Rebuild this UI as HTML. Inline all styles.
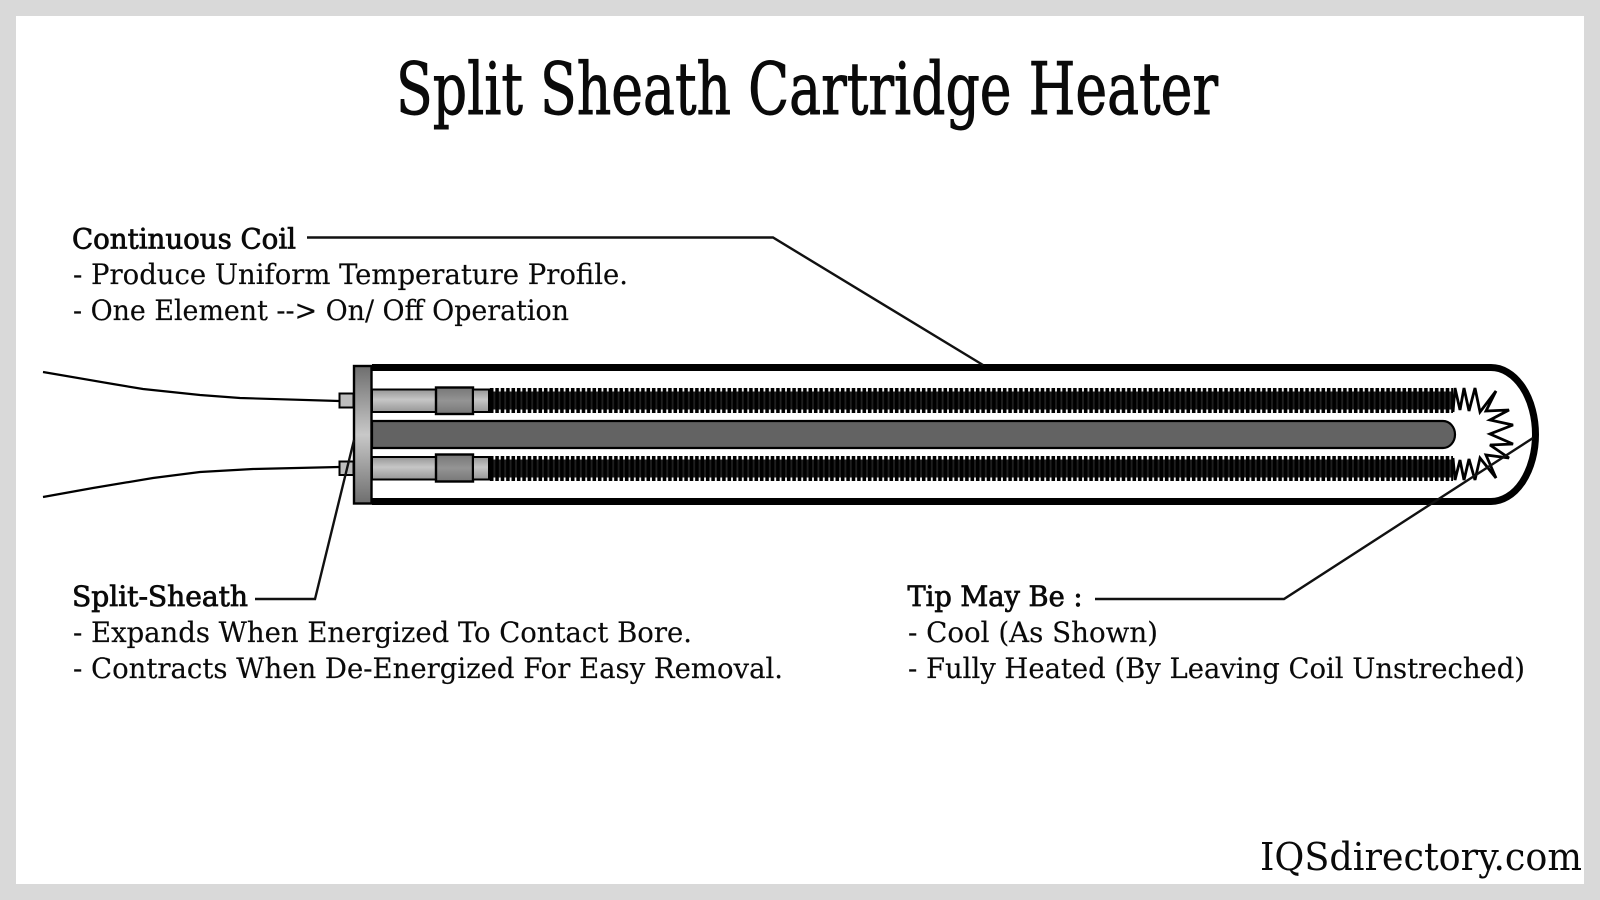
<!DOCTYPE html>
<html lang="en">
<head>
<meta charset="utf-8">
<title>Split Sheath Cartridge Heater</title>
<style>
html,body{margin:0;padding:0;background:#d9d9d9;width:1600px;height:900px;overflow:hidden}
svg{display:block}
text{font-family:"DejaVu Serif Condensed","DejaVu Serif","Liberation Serif",serif;fill:#0a0a0a}
.b{stroke:#0a0a0a;stroke-width:.7}
.r{stroke:#0a0a0a;stroke-width:.15}
.t{stroke:#0a0a0a;stroke-width:.9}
</style>
</head>
<body>
<svg width="1600" height="900" viewBox="0 0 1600 900" xmlns="http://www.w3.org/2000/svg">
<defs>
<linearGradient id="fl" x1="0" y1="0" x2="0" y2="1"><stop offset="0" stop-color="#6e6e6e"/><stop offset=".5" stop-color="#c8c8c8"/><stop offset="1" stop-color="#6e6e6e"/></linearGradient>
<linearGradient id="tube" x1="0" y1="0" x2="0" y2="1"><stop offset="0" stop-color="#969696"/><stop offset=".45" stop-color="#c6c6c6"/><stop offset="1" stop-color="#969696"/></linearGradient>
<linearGradient id="col" x1="0" y1="0" x2="0" y2="1"><stop offset="0" stop-color="#777"/><stop offset=".5" stop-color="#949494"/><stop offset="1" stop-color="#777"/></linearGradient>
<pattern id="coil" x="489" y="0" width="5.4" height="900" patternUnits="userSpaceOnUse"><rect x="0.9" width="3.6" height="900" fill="#000"/></pattern>
</defs>

<rect x="16" y="16" width="1568" height="868" fill="#fff"/>

<text class="t" x="396" y="114" font-size="72" textLength="822" lengthAdjust="spacingAndGlyphs">Split Sheath Cartridge Heater</text>

<!-- wires -->
<g fill="none" stroke="#000" stroke-width="2.2">
<polyline points="43,372 113,384 143,389 200,395 240,398 339,401"/>
<polyline points="43,497 93,488 153,478 200,472 253,469 339,467"/>
</g>

<!-- connectors -->
<rect x="339.5" y="393.5" width="14" height="14" fill="#bdbdbd" stroke="#000" stroke-width="2"/>
<rect x="339.5" y="461.5" width="14" height="13.5" fill="#bdbdbd" stroke="#000" stroke-width="2"/>

<!-- sheath -->
<path d="M372,367.5 H1491 A44.5,67 0 0 1 1491,501.5 H372" fill="#fff" stroke="#000" stroke-width="7"/>

<!-- center rod -->
<path d="M372,421 H1443 A12,13.5 0 0 1 1443,448 H372 Z" fill="#636363" stroke="#000" stroke-width="2.2"/>

<!-- upper tube -->
<rect x="372" y="389.5" width="64" height="22.5" fill="url(#tube)" stroke="#000" stroke-width="2"/>
<rect x="436" y="387.5" width="37" height="26.5" fill="url(#col)" stroke="#000" stroke-width="2.4"/>
<rect x="473" y="389.5" width="16" height="22.5" fill="url(#tube)" stroke="#000" stroke-width="2"/>
<!-- lower tube -->
<rect x="372" y="457" width="64" height="22.5" fill="url(#tube)" stroke="#000" stroke-width="2"/>
<rect x="436" y="454.5" width="37" height="27" fill="url(#col)" stroke="#000" stroke-width="2.4"/>
<rect x="473" y="457" width="16" height="22.5" fill="url(#tube)" stroke="#000" stroke-width="2"/>

<!-- coils -->
<rect x="489" y="388" width="964" height="25" fill="url(#coil)"/>
<rect x="489" y="391.5" width="964" height="18" fill="#000" opacity=".88"/>
<rect x="489" y="456" width="964" height="25" fill="url(#coil)"/>
<rect x="489" y="459.5" width="964" height="18" fill="#000" opacity=".88"/>

<!-- zigzag tip -->
<polyline fill="none" stroke="#000" stroke-width="2.8" stroke-linejoin="miter" stroke-miterlimit="3" points="1453,412 1455,388 1460,410 1464,388 1469,411 1475,388 1480,412 1496,391 1486,411 1509,410 1490,420 1513,425 1490,434 1513,444 1490,445 1509,458 1486,455 1496,478 1480,458 1475,480 1469,459 1464,480 1460,460 1455,480 1453,458"/>

<!-- flange -->
<rect x="354" y="366" width="17.5" height="137.5" fill="url(#fl)" stroke="#000" stroke-width="2.4"/>

<!-- leaders -->
<g fill="none" stroke="#111" stroke-width="2.4">
<polyline points="307,237.5 773,237.5 983,365"/>
<polyline points="255,599 315,599 354,440"/>
<polyline points="1095,599 1284,599 1533,438"/>
</g>

<!-- labels -->
<text class="b" x="72" y="248.5" font-size="28" textLength="224" lengthAdjust="spacingAndGlyphs">Continuous Coil</text>
<text class="r" x="73" y="284" font-size="28" textLength="555" lengthAdjust="spacingAndGlyphs">- Produce Uniform Temperature Profile.</text>
<text class="r" x="73" y="320" font-size="28" textLength="496" lengthAdjust="spacingAndGlyphs">- One Element --&gt; On/ Off Operation</text>

<text class="b" x="72" y="606" font-size="28" textLength="176" lengthAdjust="spacingAndGlyphs">Split-Sheath</text>
<text class="r" x="73" y="642" font-size="28" textLength="619" lengthAdjust="spacingAndGlyphs">- Expands When Energized To Contact Bore.</text>
<text class="r" x="73" y="678" font-size="28" textLength="710" lengthAdjust="spacingAndGlyphs">- Contracts When De-Energized For Easy Removal.</text>

<text class="b" x="907.5" y="606" font-size="28" textLength="175" lengthAdjust="spacingAndGlyphs">Tip May Be :</text>
<text class="r" x="908" y="642" font-size="28" textLength="250" lengthAdjust="spacingAndGlyphs">- Cool (As Shown)</text>
<text class="r" x="908" y="678" font-size="28" textLength="617" lengthAdjust="spacingAndGlyphs">- Fully Heated (By Leaving Coil Unstreched)</text>

<text x="1260" y="870" font-size="38" textLength="322" lengthAdjust="spacingAndGlyphs">IQSdirectory.com</text>
</svg>
</body>
</html>
